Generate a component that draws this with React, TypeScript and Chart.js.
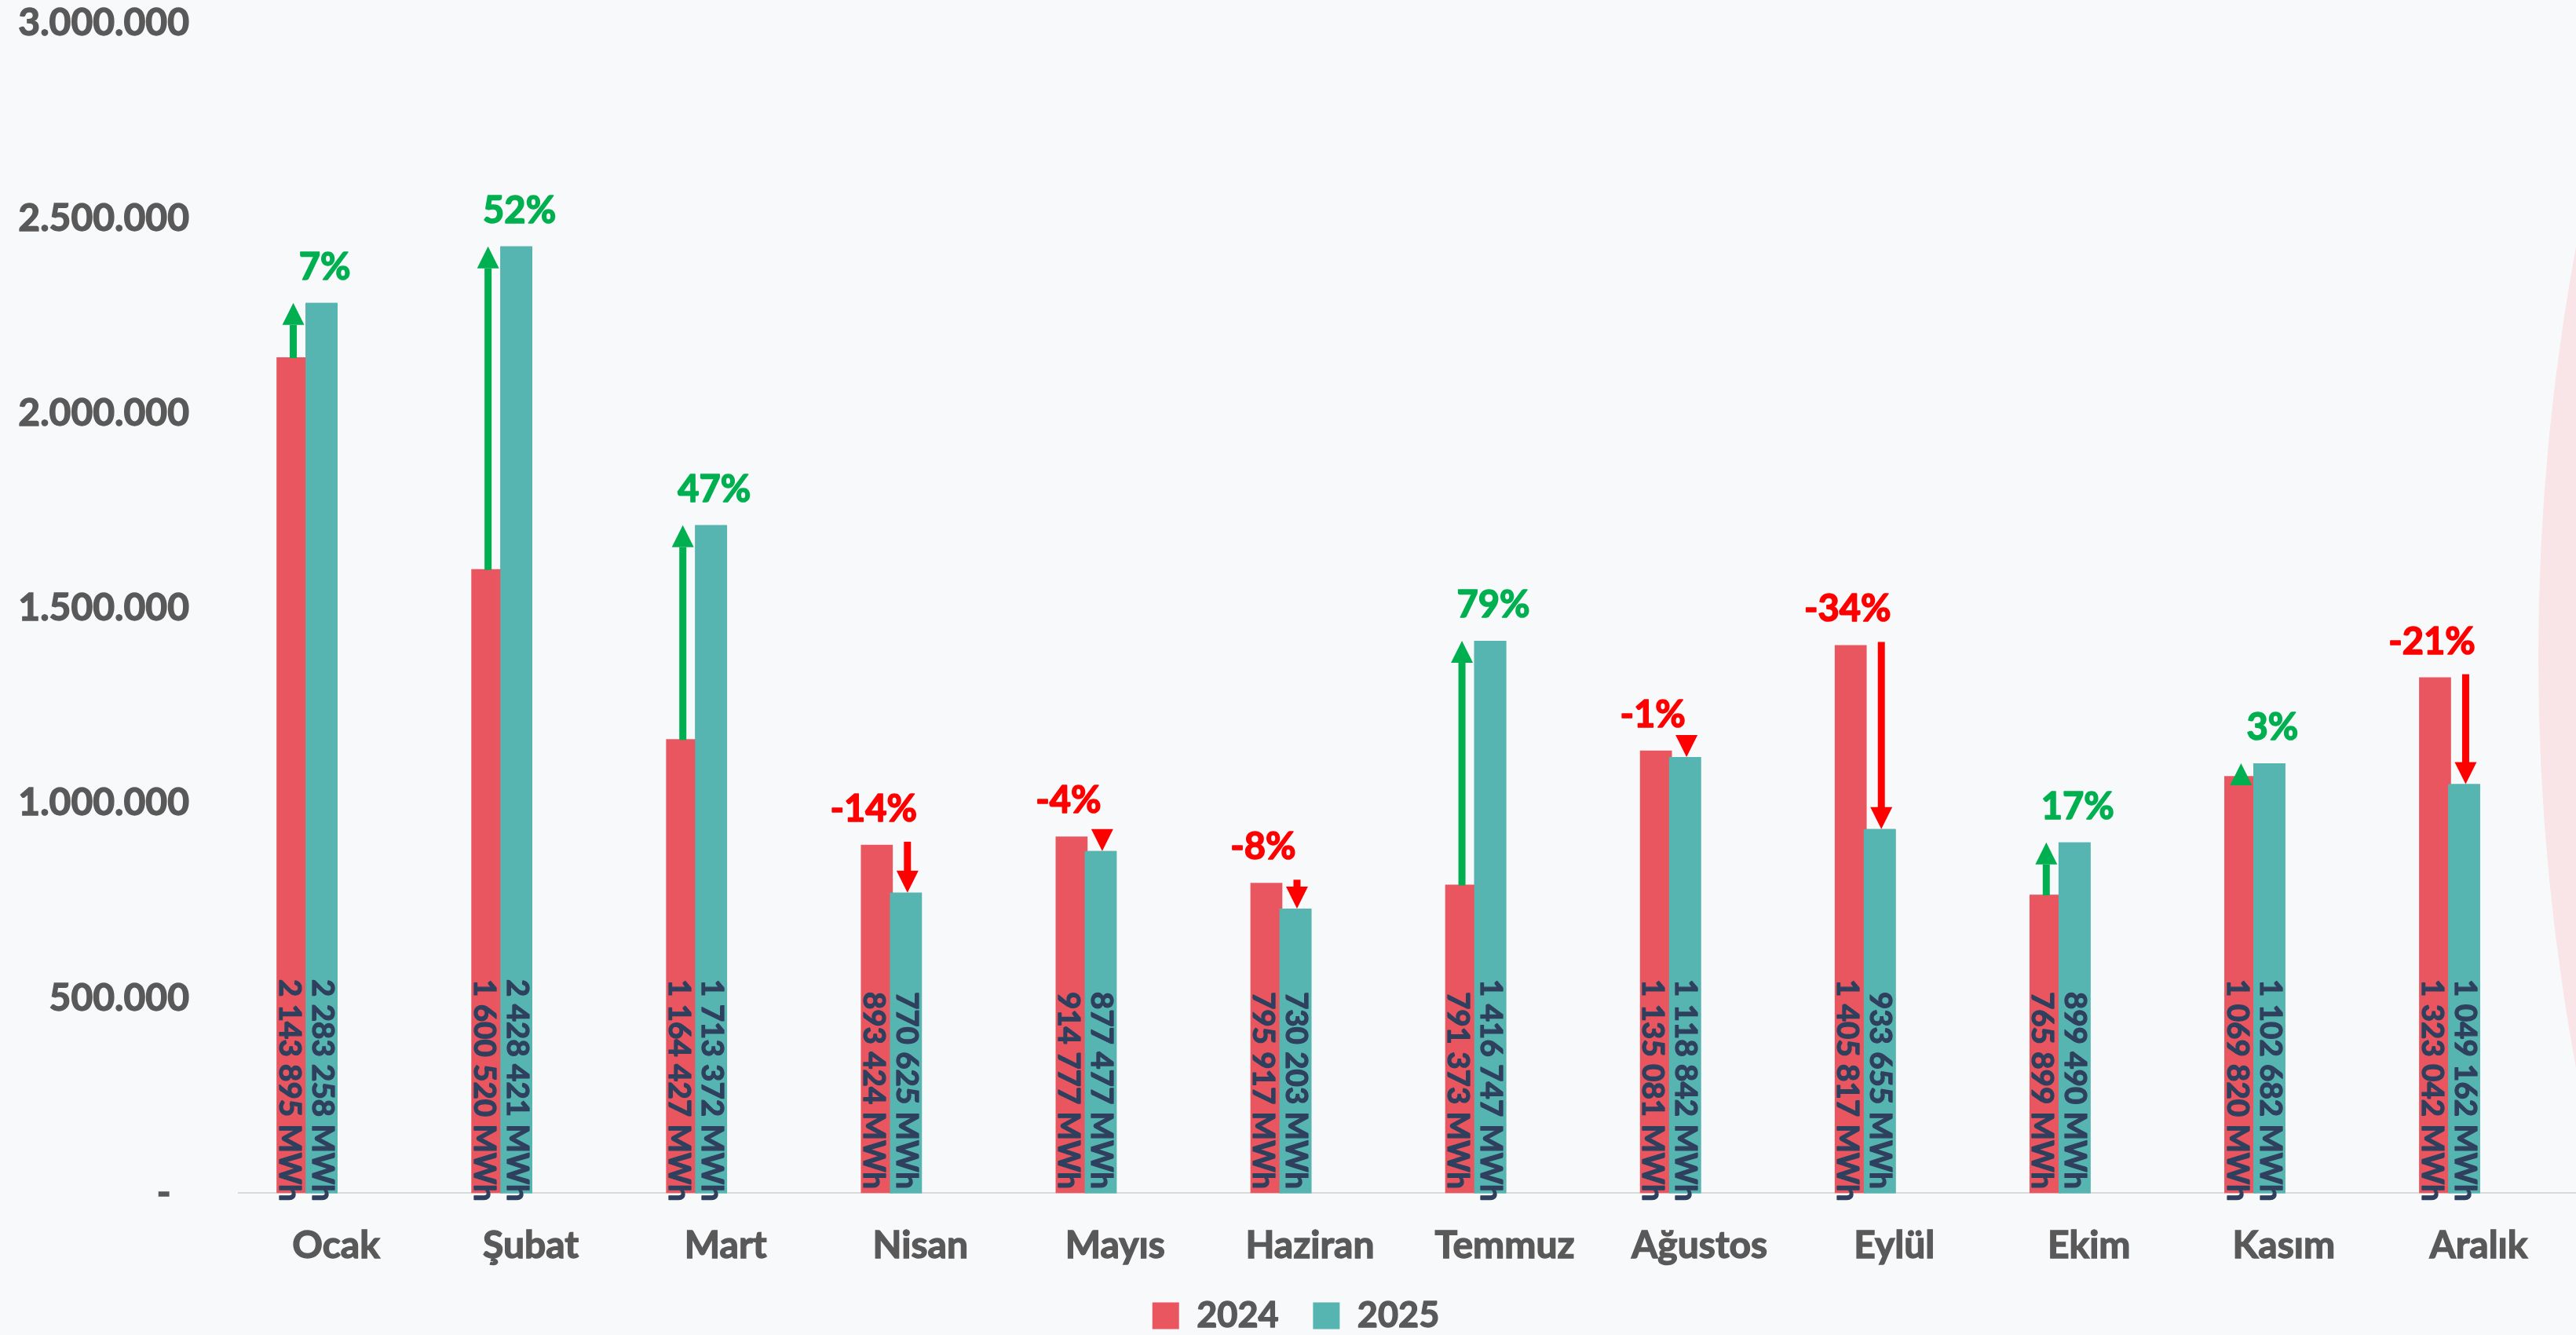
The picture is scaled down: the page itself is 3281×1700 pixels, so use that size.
import React, { useEffect, useRef } from 'react';
import { Chart, registerables } from 'chart.js';

Chart.register(...registerables);

const months = ['Ocak', 'Şubat', 'Mart', 'Nisan', 'Mayıs', 'Haziran', 'Temmuz', 'Ağustos', 'Eylül', 'Ekim', 'Kasım', 'Aralık'];
const values2024 = [2143895, 1600520, 1164427, 893424, 914777, 795917, 791373, 1135081, 1405817, 765899, 1069820, 1323042];
const values2025 = [2283258, 2428421, 1713372, 770625, 877477, 730203, 1416747, 1118842, 933655, 899490, 1102682, 1049162];
const changeLabels = ['7%', '52%', '47%', '-14%', '-4%', '-8%', '79%', '-1%', '-34%', '17%', '3%', '-21%'];
const yTickValues = [0, 500000, 1000000, 1500000, 2000000, 2500000, 3000000];
const seriesNames = ['2024', '2025'];
const emptySlot: (number | null)[] = [null, null, null, null, null, null, null, null, null, null, null, null];

const FONT = "Lato, 'Open Sans', 'DejaVu Sans', sans-serif";
const RED = '#E95660';
const TEAL = '#56B5B0';
const GREY = '#595959';
const NAVY = '#2F405E';
const UP = '#00B050';
const DOWN = '#FF0000';
const LEGEND_FONT = 45;
const LEGEND_BOX = 34;

const fmtDot = (v: number) => String(Math.round(v)).replace(/\B(?=(\d{3})+(?!\d))/g, '.');
const fmtSpace = (v: number) => String(Math.round(v)).replace(/\B(?=(\d{3})+(?!\d))/g, ' ');

function drawArrow(ctx: CanvasRenderingContext2D, x: number, yFrom: number, yTo: number, color: string) {
  const dir = yTo > yFrom ? 1 : -1;
  const headLen = 28;
  const headHalf = 14;
  const shaftHalf = 4.5;
  const headBase = yTo - dir * headLen;
  ctx.save();
  ctx.fillStyle = color;
  if ((headBase - yFrom) * dir > 0) {
    const y1 = Math.min(yFrom, headBase);
    const y2 = Math.max(yFrom, headBase);
    ctx.fillRect(x - shaftHalf, y1, shaftHalf * 2, y2 - y1 + 1);
  }
  ctx.beginPath();
  ctx.moveTo(x - headHalf, headBase);
  ctx.lineTo(x + headHalf, headBase);
  ctx.lineTo(x, yTo);
  ctx.closePath();
  ctx.fill();
  ctx.restore();
}

const decorPlugin = {
  id: 'decor',
  beforeDraw(chart: any) {
    const { ctx, width, height } = chart;
    ctx.save();
    ctx.fillStyle = '#F8F9FB';
    ctx.fillRect(0, 0, width, height);
    ctx.beginPath();
    ctx.arc(width + 2825, 837, 2873, 0, Math.PI * 2);
    ctx.fillStyle = '#F9E4E7';
    ctx.fill();
    ctx.restore();
  },
  afterDatasetsDraw(chart: any) {
    const ctx: CanvasRenderingContext2D = chart.ctx;
    const m0 = chart.getDatasetMeta(0);
    const m1 = chart.getDatasetMeta(1);
    // 2025 bars sit on top of the 2024 bars where they touch
    m1.data.forEach((el: any) => el.draw(ctx));
    const base = chart.scales.y.getPixelForValue(0);
    const cap = 0.72 * 38.5;
    months.forEach((_, i) => {
      const b0 = m0.data[i];
      const b1 = m1.data[i];
      if (!b0 || !b1) return;
      // in-bar vertical value labels
      ctx.save();
      ctx.font = `bold 38.5px ${FONT}`;
      ctx.fillStyle = NAVY;
      ctx.strokeStyle = NAVY;
      ctx.lineWidth = 1.3;
      ctx.lineJoin = 'round';
      ctx.textAlign = 'center';
      ctx.textBaseline = 'alphabetic';
      const items: [any, number, number][] = [[b0, values2024[i], -3], [b1, values2025[i], 2]];
      items.forEach(([b, v, dx]) => {
        const txt = `${fmtSpace(v)} MWh`;
        ctx.save();
        ctx.translate(b.x + dx - cap / 2, base - 131);
        ctx.rotate(Math.PI / 2);
        ctx.strokeText(txt, 0, 0);
        ctx.fillText(txt, 0, 0);
        ctx.restore();
      });
      ctx.restore();

      // arrows
      const up = values2025[i] >= values2024[i];
      const color = up ? UP : DOWN;
      if (up) {
        drawArrow(ctx, b0.x + 1, b0.y, b1.y, color);
      } else {
        drawArrow(ctx, b1.x + 2, b0.y - 4, b1.y, color);
      }

      // percent change labels
      const top = Math.min(b0.y, b1.y);
      ctx.save();
      ctx.font = `bold 47px ${FONT}`;
      ctx.fillStyle = color;
      ctx.strokeStyle = color;
      ctx.lineWidth = 1.6;
      ctx.lineJoin = 'round';
      ctx.textAlign = 'center';
      ctx.textBaseline = 'alphabetic';
      const lx = up ? b1.x + 4 : b0.x - 4;
      ctx.strokeText(changeLabels[i], lx, top - 30);
      ctx.fillText(changeLabels[i], lx, top - 30);
      ctx.restore();
    });
  },
  afterDraw(chart: any) {
    // give the legend text the same weight as the axis labels
    const lg = chart.legend;
    if (!lg || !lg.legendItems || !lg.legendHitBoxes) return;
    const ctx: CanvasRenderingContext2D = chart.ctx;
    ctx.save();
    ctx.font = `bold ${LEGEND_FONT}px ${FONT}`;
    ctx.strokeStyle = GREY;
    ctx.lineWidth = 1.4;
    ctx.lineJoin = 'round';
    ctx.textAlign = 'left';
    ctx.textBaseline = 'middle';
    lg.legendItems.forEach((item: any, idx: number) => {
      const hb = lg.legendHitBoxes[idx];
      if (!hb) return;
      ctx.strokeText(item.text, hb.left + LEGEND_BOX + LEGEND_FONT / 2, hb.top + LEGEND_FONT / 2);
    });
    ctx.restore();
  },
};

export default function App() {
  const ref = useRef<HTMLCanvasElement | null>(null);

  useEffect(() => {
    if (!ref.current) return;
    const chart = new Chart(ref.current, {
      type: 'bar',
      data: {
        labels: months,
        datasets: [
          { label: seriesNames[0] + '    ', data: values2024, backgroundColor: RED, borderWidth: 0 },
          { label: seriesNames[1], data: values2025, backgroundColor: TEAL, borderWidth: 0 },
          { label: '', data: emptySlot, backgroundColor: 'rgba(0,0,0,0)' },
          { label: '', data: emptySlot, backgroundColor: 'rgba(0,0,0,0)' },
        ],
      },
      options: {
        responsive: false,
        animation: false,
        events: [],
        categoryPercentage: 0.5965,
        barPercentage: 1.1,
        layout: { padding: { left: 20, right: 0, top: 0, bottom: -8 } },
        plugins: {
          tooltip: { enabled: false },
          legend: {
            position: 'bottom',
            labels: {
              filter: (item: any) => item.datasetIndex < 2,
              boxWidth: LEGEND_BOX,
              boxHeight: LEGEND_BOX,
              padding: 0,
              color: GREY,
              font: { family: FONT, size: LEGEND_FONT, weight: 'bold' },
            },
          },
        },
        scales: {
          x: {
            grid: { display: false, drawTicks: false },
            border: { display: true, color: '#D9D9D9', width: 2 },
            ticks: {
              color: GREY,
              textStrokeColor: GREY,
              textStrokeWidth: 1.4,
              font: { family: FONT, size: 48, weight: 'bold' },
              padding: 38,
              maxRotation: 0,
              autoSkip: false,
            },
          },
          y: {
            min: 0,
            max: 3000000,
            afterBuildTicks: (s: any) => {
              s.ticks = yTickValues.map((v) => ({ value: v }));
            },
            afterFit: (s: any) => {
              s.width = 284;
              s.paddingTop = 30;
              s.paddingBottom = 0;
            },
            grid: { display: false, drawTicks: false },
            border: { display: false },
            ticks: {
              color: GREY,
              textStrokeColor: GREY,
              textStrokeWidth: 1.4,
              font: { family: FONT, size: 48, weight: 'bold' },
              padding: 63,
              callback: (v: any) => (Number(v) === 0 ? '-  ' : fmtDot(Number(v))),
            },
          },
        },
      } as any,
      plugins: [decorPlugin],
    });
    return () => chart.destroy();
  }, []);

  return (
    <div style={{ position: 'fixed', left: 0, top: 0, width: 3281, height: 1700, overflow: 'hidden' }}>
      <canvas ref={ref} width={3281} height={1700} style={{ display: 'block', width: 3281, height: 1700 }} />
    </div>
  );
}
